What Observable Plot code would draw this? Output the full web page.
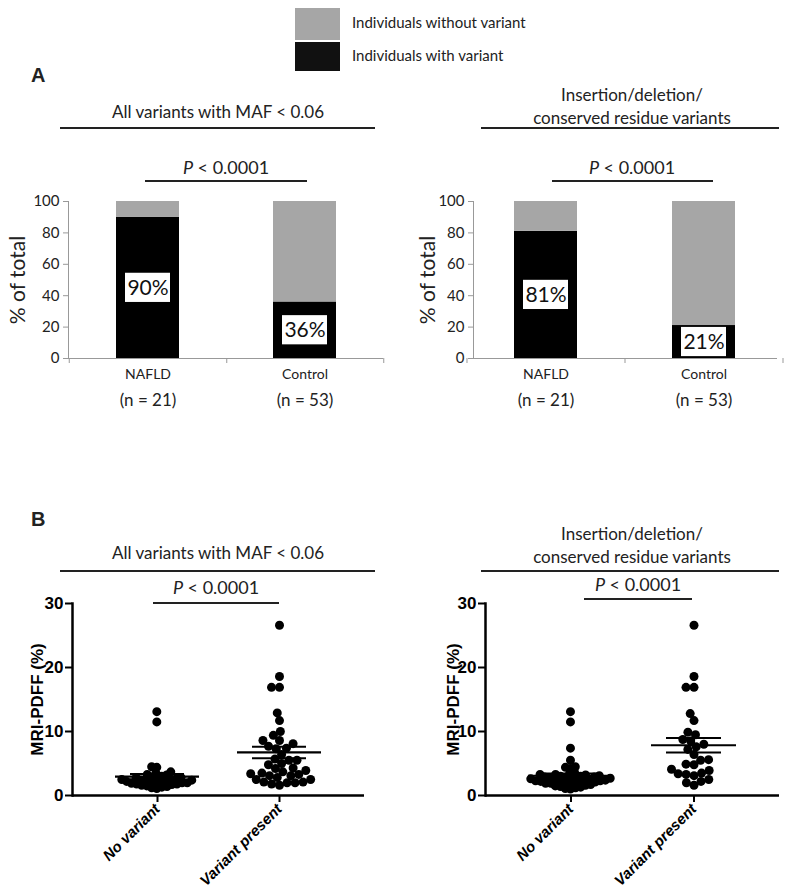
<!DOCTYPE html>
<html><head><meta charset="utf-8">
<script src="https://cdn.jsdelivr.net/npm/d3@7"></script>
<script src="https://cdn.jsdelivr.net/npm/@observablehq/plot@0.6"></script>
<style>
body{margin:0;background:#fff;}
#root{position:relative;width:800px;height:895px;overflow:hidden;font-family:Lato,sans-serif;color:#222;}
.abs{position:absolute;}
.title{font-family:Lato,sans-serif;font-size:17px;text-align:center;line-height:23px;color:#222;}
.hline{position:absolute;height:2px;background:#222;}
.pval{position:absolute;font-family:Lato,sans-serif;font-size:18px;text-align:center;line-height:22px;color:#222;}
.panel{position:absolute;font-family:'Liberation Sans',Arial,sans-serif;font-weight:bold;font-size:20px;}
.leg{position:absolute;font-family:Lato,sans-serif;font-size:15px;line-height:18px;}
.sq{position:absolute;width:45px;}
.plot{position:absolute;}
.dots g[aria-label="y-axis tick"], .dots g[aria-label="x-axis tick"]{stroke-width:2px;}
</style></head>
<body><div id="root"></div>
<script>
// ---- data ----
const legendLabels = ["Individuals without variant", "Individuals with variant"];
const legendColors = ["#a6a6a6", "#111111"];
const panelTitles = ["All variants with MAF < 0.06", "Insertion/deletion/\nconserved residue variants"];
const pLabel = "< 0.0001";

const barGroups = ["NAFLD", "Control"];
const barN = ["(n = 21)", "(n = 53)"];
const pctWithAll = [90, 36];
const pctWithIndel = [81, 21];

const dotGroups = ["No variant", "Variant present"];
const yTicksPct = [0, 20, 40, 60, 80, 100];
const yTicksPdff = [0, 10, 20, 30];
const pdffAllNoVariant = [13.1, 11.5, 4.5, 4.4, 3.7, 3.5, 3.3, 3.2, 3.0, 2.9, 2.8, 2.8, 2.7, 2.6, 2.5, 2.5, 2.4, 2.4, 2.3, 2.2, 2.2, 2.1, 2.1, 2.0, 2.0, 1.9, 1.9, 1.8, 1.8, 1.7, 1.6, 1.5, 1.4, 1.3, 1.2, 1.1];
const pdffAllVariant = [26.6, 18.6, 16.9, 16.9, 12.9, 11.7, 10.0, 9.4, 8.6, 8.6, 8.1, 7.7, 7.4, 7.3, 6.4, 5.7, 5.5, 5.5, 5.0, 4.8, 4.3, 4.2, 3.9, 3.7, 3.5, 3.4, 3.3, 3.1, 3.1, 2.8, 2.5, 2.5, 2.1, 2.1, 2.0, 2.0, 1.8, 1.6];
const pdffIndelNoVariant = [13.1, 11.5, 7.4, 5.5, 4.5, 4.4, 4.2, 3.6, 3.4, 3.3, 3.3, 3.2, 3.1, 3.0, 3.0, 2.9, 2.9, 2.8, 2.8, 2.7, 2.7, 2.6, 2.6, 2.5, 2.5, 2.4, 2.4, 2.3, 2.3, 2.2, 2.2, 2.1, 2.1, 2.0, 2.0, 1.9, 1.9, 1.8, 1.7, 1.6, 1.5, 1.4, 1.3, 1.2, 1.1, 1.0];
const pdffIndelVariant = [26.6, 18.6, 16.9, 16.9, 12.8, 11.7, 9.9, 9.5, 8.75, 8.5, 8.0, 7.6, 7.2, 6.4, 5.6, 5.5, 4.9, 4.8, 4.1, 3.9, 3.5, 3.4, 3.3, 3.1, 2.5, 2.2, 2.0, 1.6];

const root = document.getElementById("root");
function add(html){ root.insertAdjacentHTML("beforeend", html); }
const esc = s => s.replace(/&/g,"&amp;").replace(/</g,"&lt;").replace(/\n/g,"<br>");

// ---- legend ----
add(`<div class="sq" style="left:295px;top:8px;height:32px;background:${legendColors[0]}"></div>`);
add(`<div class="sq" style="left:295px;top:42px;height:29px;background:${legendColors[1]}"></div>`);
add(`<div class="leg" style="left:352px;top:13px">${esc(legendLabels[0])}</div>`);
add(`<div class="leg" style="left:352px;top:46px">${esc(legendLabels[1])}</div>`);

// ---- panel letters, titles, brackets ----
add(`<div class="panel" style="left:31px;top:64px">A</div>`);
add(`<div class="panel" style="left:31px;top:508px">B</div>`);
add(`<div class="abs title" style="left:18px;width:400px;top:100px">${esc(panelTitles[0])}</div>`);
add(`<div class="abs title" style="left:432px;width:400px;top:83px">${esc(panelTitles[1])}</div>`);
add(`<div class="abs title" style="left:18px;width:400px;top:541px">${esc(panelTitles[0])}</div>`);
add(`<div class="abs title" style="left:432px;width:400px;top:522px">${esc(panelTitles[1])}</div>`);
add(`<div class="hline" style="left:60px;width:315px;top:127px"></div>`);
add(`<div class="hline" style="left:481px;width:298px;top:127px"></div>`);
add(`<div class="hline" style="left:60px;width:315px;top:570px"></div>`);
add(`<div class="hline" style="left:481px;width:298px;top:570px"></div>`);
const pHtml = `<i>P</i> ${esc(pLabel)}`;
add(`<div class="pval" style="left:126px;width:200px;top:156px">${pHtml}</div>`);
add(`<div class="pval" style="left:532px;width:200px;top:156px">${pHtml}</div>`);
add(`<div class="hline" style="left:145px;width:162px;top:180px;height:1.5px"></div>`);
add(`<div class="hline" style="left:552px;width:161px;top:180px;height:1.5px"></div>`);
add(`<div class="pval" style="left:116px;width:200px;top:576px">${pHtml}</div>`);
add(`<div class="pval" style="left:538px;width:200px;top:573px">${pHtml}</div>`);
add(`<div class="hline" style="left:153px;width:126px;top:602px;height:1.5px"></div>`);
add(`<div class="hline" style="left:584px;width:108px;top:598px;height:1.5px"></div>`);

function place(svg, left, top, cls){ svg.classList.add("plot"); if (cls) svg.classList.add(cls); svg.style.left = left+"px"; svg.style.top = top+"px"; root.appendChild(svg); }

// ---- bar plots ----
function barPlot(pct, mL, mR, po, labelDx) {
  const width = 400, pi = 0.6;
  const step = (width - mL - mR) / (barGroups.length - pi + 2 * po);
  const rows = barGroups.flatMap((g, i) => [
    {group: g, status: "with", value: pct[i]},
    {group: g, status: "without", value: 100 - pct[i]}
  ]);
  const labels = barGroups.map((g, i) => ({group: g, mid: pct[i] / 2, text: pct[i] + "%", n: barN[i]}));
  return Plot.plot({
    width, height: 235, marginLeft: mL, marginRight: mR, marginTop: 16, marginBottom: 62,
    style: {fontFamily: "Lato, sans-serif", background: "transparent", color: "#222"},
    x: {domain: barGroups, paddingInner: pi, paddingOuter: po},
    y: {domain: [0, 100]},
    color: {domain: ["with", "without"], range: ["#000000", "#a6a6a6"]},
    marks: [
      Plot.barY(rows, {x: "group", y: "value", fill: "status"}),
      Plot.barY(labels, {x: "group", y1: d => d.mid - 9.3, y2: d => d.mid + 9.3, fill: "white", insetLeft: 9, insetRight: 9}),
      Plot.text(labels, {x: "group", y: "mid", text: "text", fontSize: 21, fill: "#111"}),
      Plot.ruleY([0], {stroke: "#999"}),
      Plot.frame({anchor: "left", stroke: "#999"}),
      // category-boundary ticks below the x axis (spreadsheet style)
      Plot.ruleX(barGroups, {x: d => d, y1: 0, y2: 0, insetBottom: -5, dx: step / 2, stroke: "#999"}),
      Plot.ruleX([barGroups[0]], {x: d => d, y1: 0, y2: 0, insetBottom: -5, dx: -step / 2, stroke: "#999"}),
      Plot.axisY({ticks: yTicksPct, tickSize: 5, stroke: "#999", fontSize: 15, label: null, tickPadding: 4}),
      Plot.axisX({tickSize: 0, tickPadding: 11, fontSize: 14, label: null}),
      Plot.text(labels, {x: "group", text: "n", frameAnchor: "bottom", dy: 47, fontSize: 17}),
      Plot.text(["% of total"], {frameAnchor: "left", textAnchor: "middle", rotate: -90, dx: labelDx, fontSize: 21})
    ]
  });
}
place(barPlot(pctWithAll, 68, 17, 0.3, -50), 0, 185);
place(barPlot(pctWithIndel, 73, 23, 0.262, -45), 400, 185);

// ---- dot plots ----
function dotPlot(noVals, yesVals, mL, mR, labelDx) {
  const width = 400, po = 0.19;
  const step = (width - mL - mR) / (2 + 2 * po); // band step (= bandwidth, paddingInner 0)
  const stats = [[dotGroups[0], noVals], [dotGroups[1], yesVals]].map(([g, v]) => {
    const m = d3.mean(v), s = d3.deviation(v) / Math.sqrt(v.length);
    return {group: g, mean: m, lo: m - s, hi: m + s};
  });
  const asc = v => d3.sort(v);
  // dodge centres on the frame middle; Plot also adds bandwidth/2 because x is a band scale
  const shift = off => off - step / 2;
  return Plot.plot({
    width, height: 315, marginLeft: mL, marginRight: mR, marginTop: 23, marginBottom: 100,
    style: {fontFamily: "'Liberation Sans', Arial, sans-serif", background: "transparent", color: "#000"},
    x: {type: "band", domain: dotGroups, paddingInner: 0, paddingOuter: po},
    y: {domain: [0, 30]},
    marks: [
      // dense group: small layout radius, drawn full size via a thick stroke (points overlap as in the original)
      Plot.dot(asc(noVals), Plot.dodgeX({anchor: "middle", padding: 0, y: d => d, r: 2.6, fill: "#000", stroke: "#000", strokeWidth: 3.8, dx: shift(-step / 2)})),
      Plot.dot(asc(yesVals), Plot.dodgeX({anchor: "middle", padding: -1, y: d => d, r: 4.5, fill: "#000", dx: shift(step / 2)})),
      Plot.tickY(stats, {x: "group", y: "mean", strokeWidth: 2.2, insetLeft: 19, insetRight: 19}),
      Plot.tickY(stats, {x: "group", y: "lo", strokeWidth: 2, insetLeft: 34, insetRight: 34}),
      Plot.tickY(stats, {x: "group", y: "hi", strokeWidth: 2, insetLeft: 34, insetRight: 34}),
      Plot.ruleX(stats, {x: "group", y1: "lo", y2: "hi", strokeWidth: 2}),
      Plot.ruleY([0], {strokeWidth: 2.5}),
      Plot.frame({anchor: "left", strokeWidth: 2.5}),
      Plot.axisY({ticks: yTicksPdff, tickSize: 7, tickPadding: 2, fontSize: 17, fontWeight: "bold", label: null}),
      Plot.axisX({tickSize: 7, tickPadding: 4, tickRotate: -45, fontSize: 15, fontWeight: "bold", fontStyle: "italic", label: null}),
      Plot.text(["MRI-PDFF (%)"], {frameAnchor: "left", textAnchor: "middle", rotate: -90, dx: labelDx, fontSize: 17, fontWeight: "bold"})
    ]
  });
}
place(dotPlot(pdffAllNoVariant, pdffAllVariant, 72, 36, -35), 0, 580, "dots");
place(dotPlot(pdffIndelNoVariant, pdffIndelVariant, 85, 21, -32), 400, 580, "dots");
</script>
</body></html>
